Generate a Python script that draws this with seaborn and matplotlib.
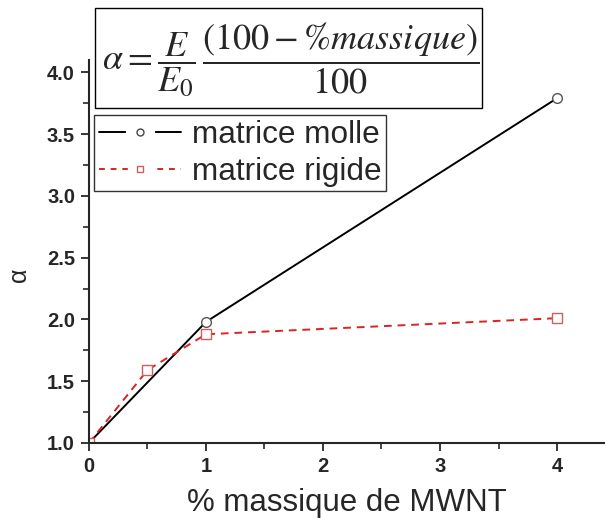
import matplotlib
matplotlib.use("Agg")
import matplotlib.pyplot as plt
import seaborn as sns
from matplotlib.lines import Line2D
from matplotlib.patches import Rectangle
from matplotlib.ticker import MultipleLocator

# data
x_molle = [0, 1, 4]
y_molle = [1.0, 1.98, 3.79]
x_rigide = [0, 0.5, 1, 4]
y_rigide = [1.0, 1.59, 1.88, 2.01]
labels = ["matrice molle", "matrice rigide"]

sns.set_style("ticks")
plt.rcParams["font.family"] = ["Liberation Sans", "DejaVu Sans"]
plt.rcParams["mathtext.fontset"] = "stix"

fig = plt.figure(figsize=(6.05, 5.24), dpi=100)
ax = fig.add_axes([0.147, 0.1546, 0.853, 0.731])

red = "#dd2222"
sns.lineplot(x=x_molle, y=y_molle, ax=ax, color="black", lw=1.4,
             marker="o", ms=7, mfc="white", mec="#555555", mew=1.0)
sns.lineplot(x=x_rigide, y=y_rigide, ax=ax, color=red, lw=1.4,
             linestyle=(0, (4, 3)), marker="s", ms=6.5, mfc="white",
             mec="#c86060", mew=1.0)

ax.set_xlim(0, 4.41)
ax.set_ylim(1.0, 4.1)
ax.xaxis.set_major_locator(MultipleLocator(1))
ax.xaxis.set_minor_locator(MultipleLocator(0.5))
ax.yaxis.set_minor_locator(MultipleLocator(0.25))
ax.set_yticks([1.0, 1.5, 2.0, 2.5, 3.0, 3.5, 4.0])
ax.set_yticklabels(["1.0", "1.5", "2.0", "2.5", "3.0", "3.5", "4.0"])
ax.tick_params(which="major", direction="out", length=6, width=1.3,
               labelsize=14.5, pad=4)
ax.tick_params(which="minor", direction="out", length=4, width=1.2)
for lab in ax.get_xticklabels() + ax.get_yticklabels():
    lab.set_fontweight("bold")
for s in ["left", "bottom"]:
    ax.spines[s].set_linewidth(1.5)
sns.despine(ax=ax)

ax.set_xlabel("% massique de MWNT", fontsize=22.5, labelpad=9)
ax.set_ylabel("α", fontsize=18)
ax.yaxis.set_label_coords(-0.112, 0.44)

# legend handles: line, white blob for the gap, small marker
h_molle = (Line2D([], [], color="black", lw=1.4),
           Line2D([], [], ls="", marker="o", ms=20, mfc="white", mec="white"),
           Line2D([], [], ls="", marker="o", ms=5, mfc="white", mec="#444444"))
h_rigide = (Line2D([], [], color=red, lw=1.4, ls=(0, (3, 3))),
            Line2D([], [], ls="", marker="s", ms=18, mfc="white", mec="white"),
            Line2D([], [], ls="", marker="s", ms=5, mfc="white", mec="#c86060"))
leg = ax.legend([h_molle, h_rigide], labels, loc="upper left",
                bbox_to_anchor=(0.010, 0.856), fontsize=22.7,
                frameon=True, fancybox=False, edgecolor="black",
                handlelength=2.6, handletextpad=0.35, borderpad=0.15,
                labelspacing=0.22, borderaxespad=0.0)
leg.get_frame().set_linewidth(1.0)

# formula box
fig.patches.append(Rectangle((0.157, 0.794), 0.640, 0.191, transform=fig.transFigure,
                             fc="white", ec="black", lw=1.0, zorder=5))
fig.text(0.168, 0.886,
         r"$\alpha = \dfrac{E}{E_0}\,\dfrac{(100 - \%\mathit{massique})}{100}$",
         fontsize=26, ha="left", va="center", zorder=6)

fig.savefig("out.png", dpi=100)
